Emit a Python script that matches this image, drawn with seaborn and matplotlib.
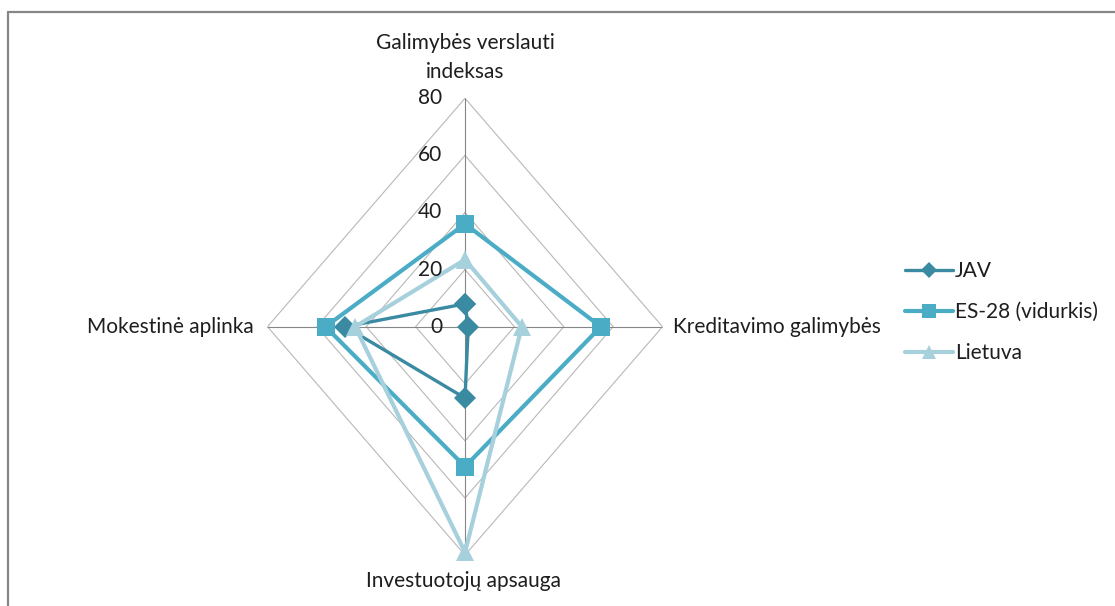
import numpy as np
import pandas as pd
import matplotlib
matplotlib.use("Agg")
import matplotlib.pyplot as plt
import seaborn as sns

# axes order: clockwise starting at the top
categories = ["Galimybės verslauti\nindeksas", "Kreditavimo galimybės",
              "Investuotojų apsauga", "Mokestinė aplinka"]
series_names = ["JAV", "ES-28 (vidurkis)", "Lietuva"]
jav = [8, 1.3, 25, 48.5]
es28 = [36, 55, 49, 56.5]
lietuva = [23.5, 23, 79, 44.5]
ring_ticks = [0, 20, 40, 60, 80]

colors = {"JAV": "#3A8AA2", "ES-28 (vidurkis)": "#4BACC6", "Lietuva": "#A7D0DD"}
markers = {"JAV": "D", "ES-28 (vidurkis)": "s", "Lietuva": "^"}
msizes = {"JAV": 11, "ES-28 (vidurkis)": 13, "Lietuva": 13}
lwidths = {"JAV": 2.4, "ES-28 (vidurkis)": 3.0, "Lietuva": 3.0}

sns.set_style("white")
plt.rcParams["font.family"] = ["Lato", "DejaVu Sans"]
text_color = "#1E1E1E"
fsize = 15

angles = np.arange(len(categories)) * 2 * np.pi / len(categories)
closed = np.append(angles, 2 * np.pi)

rows = []
for name, vals in zip(series_names, [jav, es28, lietuva]):
    vals_closed = list(vals) + [vals[0]]
    for th, v in zip(closed, vals_closed):
        rows.append({"series": name, "theta": th, "value": v})
df = pd.DataFrame(rows)

fig = plt.figure(figsize=(11.15, 6.06), dpi=100)
ax = fig.add_axes([0.2399, 0.084, 0.3543, 0.7538], projection="polar")
ax.set_theta_offset(np.pi / 2)
ax.set_theta_direction(-1)
ax.set_ylim(0, ring_ticks[-1])
ax.grid(False)
ax.set_xticks([])
ax.set_yticks([])
ax.spines["polar"].set_visible(False)
ax.patch.set_visible(False)

# diamond-shaped grid rings and spokes
for r in ring_ticks[1:]:
    ax.plot(closed, [r] * len(closed), color="#B8B8B8", lw=0.8, zorder=1)
for a in angles:
    ax.plot([a, a], [0, ring_ticks[-1]], color="#868686", lw=0.8, zorder=1)

for name in series_names:
    sub = df[df["series"] == name]
    sns.lineplot(data=sub, x="theta", y="value", ax=ax, sort=False, estimator=None,
                 color=colors[name], marker=markers[name], markersize=msizes[name],
                 markeredgecolor=colors[name], markeredgewidth=0,
                 linewidth=lwidths[name], label=name, clip_on=False, zorder=3)

ax.set_xlabel("")
ax.set_ylabel("")

# radial value labels along the top spoke
for r in ring_ticks:
    ax.annotate(str(r), xy=(0, r), xytext=(-23, 0), textcoords="offset pixels",
                ha="right", va="center", fontsize=fsize, color=text_color)

# category labels
rmax = ring_ticks[-1]
ax.annotate(categories[0], xy=(angles[0], rmax), xytext=(0, 16), textcoords="offset pixels",
            ha="center", va="bottom", fontsize=fsize, color=text_color,
            linespacing=1.6, annotation_clip=False)
ax.annotate(categories[1], xy=(angles[1], rmax), xytext=(10, 0), textcoords="offset pixels",
            ha="left", va="center", fontsize=fsize, color=text_color, annotation_clip=False)
ax.annotate(categories[2], xy=(angles[2], rmax), xytext=(-2, -16), textcoords="offset pixels",
            ha="center", va="top", fontsize=fsize, color=text_color, annotation_clip=False)
ax.annotate(categories[3], xy=(angles[3], rmax), xytext=(-14, 0), textcoords="offset pixels",
            ha="right", va="center", fontsize=fsize, color=text_color, annotation_clip=False)

ax.set_aspect("auto")

leg = ax.legend(loc="center left", bbox_to_anchor=(0.8117, 0.485),
                bbox_transform=fig.transFigure, frameon=False, fontsize=fsize,
                handlelength=2.3, handletextpad=0.1, labelspacing=1.0,
                borderpad=0, borderaxespad=0)
for txt in leg.get_texts():
    txt.set_color(text_color)
for h, name in zip(leg.legend_handles, series_names):
    h.set_markersize(msizes[name] * 0.75)

# outer chart frame (left and top edges visible)
fig.add_artist(plt.Line2D([8 / 1115, 8 / 1115], [0, 1 - 12 / 606], transform=fig.transFigure,
                          color="#878787", lw=1.6))
fig.add_artist(plt.Line2D([8 / 1115, 1], [1 - 12 / 606, 1 - 12 / 606], transform=fig.transFigure,
                          color="#878787", lw=1.6))

fig.savefig("out.png", dpi=100, facecolor="white")
